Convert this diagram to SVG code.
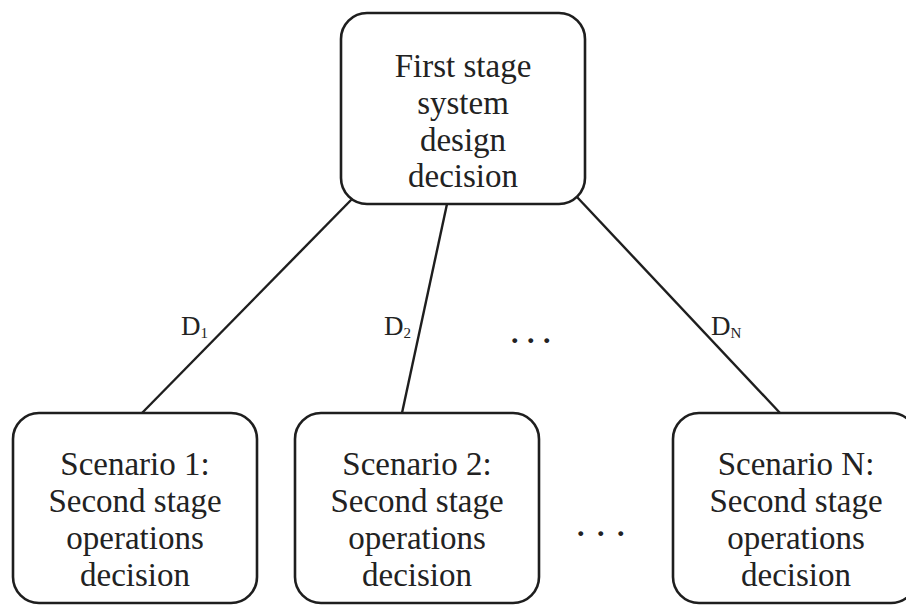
<svg xmlns="http://www.w3.org/2000/svg" width="906" height="606" viewBox="0 0 906 606">
<style>
.box{fill:#fff;stroke:#1e1e1e;stroke-width:2.6}
.t{font-family:"Liberation Serif","DejaVu Serif","Times New Roman",serif;font-size:33px;fill:#222;text-anchor:middle}
.lbl{font-family:"Liberation Serif","DejaVu Serif","Times New Roman",serif;font-size:27px;fill:#222}
.sub{font-size:15px}
.dots{font-family:"Liberation Serif","DejaVu Serif","Times New Roman",serif;font-size:30px;font-weight:bold;fill:#222}
.c{stroke:#1e1e1e;stroke-width:2.4;fill:none}
</style>
<rect width="906" height="606" fill="#fff"/>
<g id="connectors">
<line class="c" x1="353" y1="198" x2="142" y2="413"/>
<line class="c" x1="447" y1="204" x2="402" y2="413"/>
<line class="c" x1="577" y1="197" x2="780" y2="413"/>
<text class="lbl" x="181" y="335">D<tspan class="sub" dy="3">1</tspan></text>
<text class="lbl" x="384" y="335">D<tspan class="sub" dy="3">2</tspan></text>
<text class="lbl" x="711" y="335">D<tspan class="sub" dy="3">N</tspan></text>
</g>
<g id="first-stage">
<rect class="box" x="341" y="13" width="244" height="191" rx="26" ry="26"/>
<text class="t" x="463" y="77">First stage</text>
<text class="t" x="463" y="114">system</text>
<text class="t" x="463" y="151">design</text>
<text class="t" x="463" y="187">decision</text>
</g>
<g id="scenario-1">
<rect class="box" x="13" y="413" width="244" height="190" rx="26" ry="26"/>
<text class="t" x="135" y="475">Scenario 1:</text>
<text class="t" x="135" y="512">Second stage</text>
<text class="t" x="135" y="549">operations</text>
<text class="t" x="135" y="586">decision</text>
</g>
<g id="scenario-2">
<rect class="box" x="295" y="413" width="244" height="190" rx="26" ry="26"/>
<text class="t" x="417" y="475">Scenario 2:</text>
<text class="t" x="417" y="512">Second stage</text>
<text class="t" x="417" y="549">operations</text>
<text class="t" x="417" y="586">decision</text>
</g>
<g id="scenario-n">
<rect class="box" x="673" y="413" width="244" height="190" rx="26" ry="26"/>
<text class="t" x="796" y="475">Scenario N:</text>
<text class="t" x="796" y="512">Second stage</text>
<text class="t" x="796" y="549">operations</text>
<text class="t" x="796" y="586">decision</text>
</g>
<g id="ellipses">
<text class="dots" x="511" y="343" letter-spacing="8.5">...</text>
<text class="dots" x="577" y="536" letter-spacing="12.5">...</text>
</g>
</svg>
